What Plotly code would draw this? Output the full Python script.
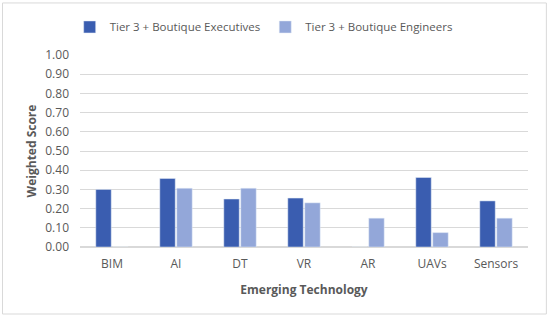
import plotly.graph_objects as go

technologies = ['BIM', 'AI', 'DT', 'VR', 'AR', 'UAVs', 'Sensors']
executives = [0.30, 0.357, 0.25, 0.255, 0, 0.362, 0.24]
engineers = [0, 0.306, 0.306, 0.23, 0.15, 0.075, 0.15]

fig = go.Figure()
fig.add_trace(go.Bar(x=technologies, y=executives, name='Tier 3 + Boutique Executives',
                     marker=dict(color='#3a5db0')))
fig.add_trace(go.Bar(x=technologies, y=engineers, name='Tier 3 + Boutique Engineers',
                     marker=dict(color='#93a7d9')))

fig.update_layout(
    width=550, height=317,
    margin=dict(l=80, r=22, t=55, b=70, autoexpand=False),
    paper_bgcolor='white', plot_bgcolor='white',
    font=dict(family='Open Sans', size=12, color='#595959'),
    barmode='group', bargap=0.47, bargroupgap=0.09,
    legend=dict(orientation='h', x=0.41, xanchor='center', y=1.146, yanchor='middle',
                font=dict(size=11.5), itemwidth=30),
    xaxis=dict(title=dict(text='<b>Emerging Technology</b>', standoff=14,
                          font=dict(size=12)), showline=False, ticks='',
               ticklabelstandoff=8),
    yaxis=dict(title=dict(text='<b>Weighted Score</b>', standoff=6, font=dict(size=12)),
               range=[0, 1.0], dtick=0.1, tickformat='.2f', gridcolor='#d9d9d9',
               zeroline=True, zerolinecolor='#d9d9d9', ticks='',
               ticklabelstandoff=10),
    shapes=[dict(type='rect', xref='paper', yref='paper', x0=-0.173, x1=1.041,
                 y0=-0.349, y1=1.271, line=dict(color='#d9d9d9', width=1))],
)

fig.write_html('out.html', config={'displayModeBar': False},
               post_script="document.body.style.margin='0';")
